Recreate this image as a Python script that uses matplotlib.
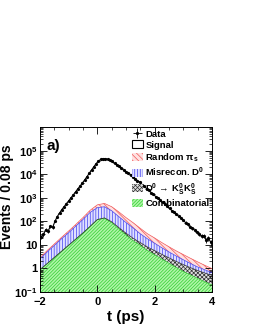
import numpy as np
import matplotlib
matplotlib.use("Agg")
import matplotlib.pyplot as plt
from matplotlib.patches import Patch
from matplotlib.ticker import FixedLocator, FixedFormatter, LogLocator, MultipleLocator

plt.rcParams['font.family'] = ['Liberation Sans', 'DejaVu Sans']
plt.rcParams['font.weight'] = 'bold'
plt.rcParams['mathtext.fontset'] = 'custom'
plt.rcParams['mathtext.rm'] = 'Liberation Sans:bold'
plt.rcParams['mathtext.bf'] = 'Liberation Sans:bold'
plt.rcParams['mathtext.it'] = 'Liberation Sans:bold:italic'
plt.rcParams['mathtext.default'] = 'bf'
plt.rcParams['hatch.linewidth'] = 0.5

# data: bin centres (0.08 ps bins) and counts
t_data = np.round(np.arange(-1.96, 4.0, 0.08), 2)
counts = [22, 28, 45, 38, 62, 55, 100, 158, 224, 316, 417, 562, 741, 1000, 1318,
          1778, 2399, 3162, 4266, 5754, 7943, 10965, 15136, 20893, 28184, 36308,
          42658, 45709, 45709, 43652, 39811, 34674, 29512, 25119, 21380, 17783,
          14791, 12303, 11482, 9550, 7943, 6457, 5370, 4467, 3631, 3020, 2455,
          2042, 1660, 1380, 1122, 933, 776, 631, 525, 427, 355, 288, 240, 195,
          162, 132, 110, 89, 74, 60, 50, 41, 34, 30, 24, 25, 16, 19, 13]

# background components on a coarse grid
t_comp = np.arange(-2.0, 4.01, 0.25)
combinatorial = [0.87, 1.58, 2.88, 5.25, 9.55, 17.4, 31.6, 60.3, 117, 135, 89, 47.9,
                 26.3, 15.1, 9.55, 5.75, 3.80, 2.51, 1.66, 1.10, 0.74, 0.525,
                 0.372, 0.263, 0.19]
ksks = [0.02, 0.04, 0.07, 0.12, 0.22, 0.4, 0.8, 1.4, 2.5, 5, 7, 6.5, 5.3, 4.0, 3.0,
        2.38, 1.95, 1.47, 1.16, 0.9, 0.71, 0.55, 0.44, 0.37, 0.31]
misrecon = [1.68, 3.4, 6.6, 12.8, 23.3, 45.3, 88, 178, 260, 277, 186, 104, 57.5,
            33.4, 17, 10, 6, 3.6, 2.2, 1.39, 0.89, 0.55, 0.34, 0.24, 0.16]
random_pis = [0.31, 0.74, 1.4, 2.7, 5.8, 11, 24, 55, 121, 158, 135, 93, 55, 34.6,
              21, 11.6, 7.9, 5.0, 3.3, 2.2, 1.55, 1.07, 0.75, 0.48, 0.32]

fig = plt.figure(figsize=(2.55, 3.3), dpi=100)
ax = fig.add_axes([0.157, 0.115, 0.674, 0.5])

layers = [
    (combinatorial, '#b0f5a8', '#30d030', '//////////'),
    (ksks, '#e0e0e0', '#303030', 'xxxxxxxx'),
    (misrecon, '#e0e0ff', '#4040f0', '||||||'),
    (random_pis, '#ffe0e0', '#f05858', '\\\\\\\\\\\\'),
]
base = np.full(len(t_comp), 0.01)
fills = []
for vals, fc, hc, hatch in layers:
    top = base + np.array(vals)
    f = ax.fill_between(t_comp, base, top, facecolor=fc, edgecolor=hc, hatch=hatch,
                        linewidth=0)
    ax.plot(t_comp, top, color=hc, lw=0.5)
    fills.append(f)
    base = top

counts = np.array(counts, dtype=float)
ax.plot(t_data, counts, color='black', lw=0.8)
eb = ax.errorbar(t_data, counts, yerr=np.sqrt(counts), xerr=0.04, fmt='o', ms=1.3,
                 color='black', elinewidth=0.6, capsize=0)

ax.set_yscale('log')
ax.set_xlim(-2, 4)
ax.set_ylim(0.1, 1e6)

ax.yaxis.set_major_locator(FixedLocator([0.1, 1, 10, 100, 1e3, 1e4, 1e5]))
ax.yaxis.set_major_formatter(FixedFormatter(['$10^{-1}$', '1', '10', '$10^{2}$',
                                             '$10^{3}$', '$10^{4}$', '$10^{5}$']))
ax.yaxis.set_minor_locator(LogLocator(base=10, subs=np.arange(2, 10), numticks=20))
ax.yaxis.set_minor_formatter(FixedFormatter([]))
ax.xaxis.set_major_locator(MultipleLocator(2))
ax.xaxis.set_minor_locator(MultipleLocator(0.5))
ax.tick_params(which='both', direction='in', top=True, right=True, labelsize=8)
ax.tick_params(axis='y', pad=2)
ax.tick_params(which='major', length=5, width=0.6)
ax.tick_params(which='minor', length=2.5, width=0.5)
for s in ax.spines.values():
    s.set_linewidth(0.7)

ax.set_xlabel('t (ps)', fontsize=11, fontweight='bold', labelpad=2)
ax.set_ylabel('Events / 0.08 ps', fontsize=10, fontweight='bold')
ax.yaxis.set_label_coords(-0.15, 0.58)
ax.text(0.04, 0.93, 'a)', transform=ax.transAxes, fontsize=11, fontweight='bold',
        va='top')

handles = [eb, Patch(facecolor='white', edgecolor='black', lw=0.8),
           fills[3], fills[2], fills[1], fills[0]]
labels = ['Data', 'Signal', r'Random $\pi_s$', r'Misrecon. D$^0$',
          r'D$^0\,\rightarrow\,$K$^0_S$K$^0_S$', 'Combinatorial']
ax.legend(handles, labels, loc='upper right', fontsize=6.8, frameon=False,
          handlelength=1.1, handleheight=0.9, handletextpad=0.3, labelspacing=0.2,
          borderaxespad=0.15, borderpad=0.1)

fig.savefig('out.png', dpi=100)
